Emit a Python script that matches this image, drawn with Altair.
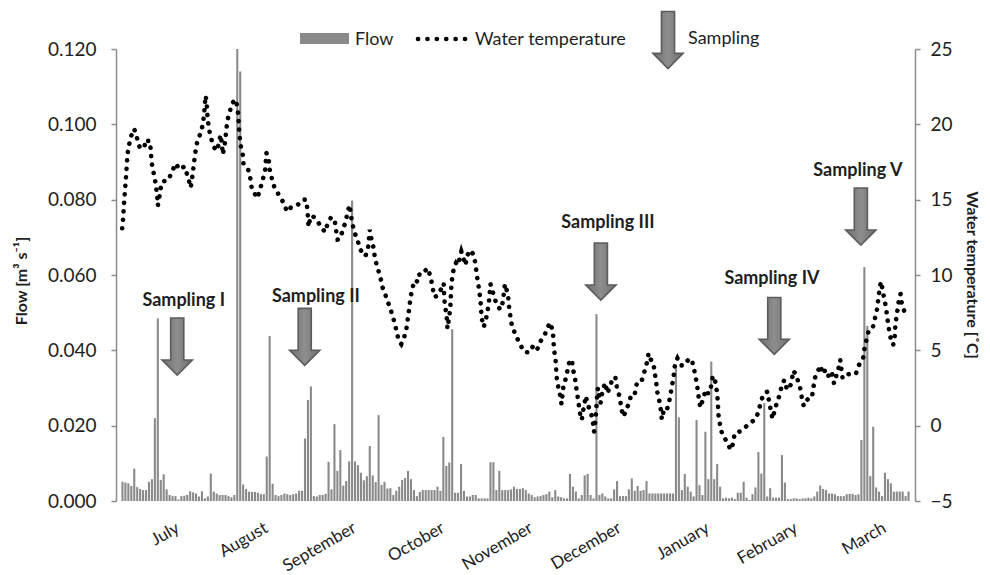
import altair as alt
import pandas as pd

# ---------------- data ----------------
flow = [
    0.0051, 0.0049, 0.0047, 0.0040, 0.0086, 0.0037, 0.0032, 0.0029, 0.0029, 0.0051,
    0.0058, 0.0220, 0.0485, 0.0056, 0.0071, 0.0031, 0.0016, 0.0013, 0.0013, 0.0004,
    0.0013, 0.0014, 0.0016, 0.0026, 0.0023, 0.0020, 0.0012, 0.0026, 0.0007, 0.0012,
    0.0073, 0.0025, 0.0020, 0.0016, 0.0016, 0.0016, 0.0013, 0.0010, 0.0016, 0.1200,
    0.1140, 0.0044, 0.0032, 0.0025, 0.0024, 0.0024, 0.0022, 0.0018, 0.0018, 0.0118,
    0.0438, 0.0046, 0.0016, 0.0013, 0.0016, 0.0020, 0.0018, 0.0016, 0.0018, 0.0020,
    0.0027, 0.0027, 0.0166, 0.0268, 0.0304, 0.0013, 0.0012, 0.0016, 0.0016, 0.0019,
    0.0104, 0.0031, 0.0204, 0.0080, 0.0135, 0.0041, 0.0053, 0.0105, 0.0798, 0.0105,
    0.0095, 0.0075, 0.0055, 0.0066, 0.0146, 0.0068, 0.0050, 0.0228, 0.0043, 0.0051,
    0.0033, 0.0034, 0.0016, 0.0027, 0.0038, 0.0056, 0.0061, 0.0080, 0.0058, 0.0029,
    0.0013, 0.0024, 0.0029, 0.0029, 0.0029, 0.0029, 0.0029, 0.0038, 0.0027, 0.0170,
    0.0093, 0.0102, 0.0456, 0.0022, 0.0022, 0.0098, 0.0027, 0.0012, 0.0012, 0.0016,
    0.0016, 0.0007, 0.0007, 0.0007, 0.0007, 0.0103, 0.0103, 0.0029, 0.0080, 0.0029,
    0.0029, 0.0029, 0.0031, 0.0038, 0.0032, 0.0032, 0.0034, 0.0029, 0.0020, 0.0016,
    0.0010, 0.0012, 0.0013, 0.0016, 0.0018, 0.0025, 0.0010, 0.0029, 0.0012, 0.0010,
    0.0007, 0.0007, 0.0072, 0.0038, 0.0025, 0.0007, 0.0016, 0.0068, 0.0072, 0.0016,
    0.0007, 0.0496, 0.0016, 0.0020, 0.0012, 0.0007, 0.0007, 0.0031, 0.0053, 0.0013,
    0.0013, 0.0013, 0.0031, 0.0060, 0.0027, 0.0040, 0.0027, 0.0029, 0.0053, 0.0020,
    0.0020, 0.0020, 0.0020, 0.0020, 0.0020, 0.0020, 0.0020, 0.0020, 0.0360, 0.0222,
    0.0029, 0.0072, 0.0038, 0.0025, 0.0012, 0.0215, 0.0042, 0.0016, 0.0184, 0.0058,
    0.0370, 0.0058, 0.0098, 0.0038, 0.0007, 0.0009, 0.0007, 0.0009, 0.0005, 0.0022,
    0.0022, 0.0051, 0.0009, 0.0003, 0.0018, 0.0036, 0.0130, 0.0073, 0.0260, 0.0012,
    0.0034, 0.0009, 0.0009, 0.0009, 0.0122, 0.0049, 0.0005, 0.0005, 0.0007, 0.0007,
    0.0005, 0.0007, 0.0007, 0.0009, 0.0007, 0.0012, 0.0025, 0.0041, 0.0032, 0.0029,
    0.0020, 0.0020, 0.0018, 0.0013, 0.0013, 0.0013, 0.0018, 0.0019, 0.0019, 0.0016,
    0.0018, 0.0162, 0.0621, 0.0465, 0.0066, 0.0197, 0.0036, 0.0025, 0.0013, 0.0075,
    0.0058, 0.0047, 0.0025, 0.0025, 0.0025, 0.0025, 0.0013, 0.0025,
]

temp_day = [
    0.4, 0.7, 0.9, 1.1, 1.3, 1.6, 1.8, 2.0, 2.2, 2.7, 3.4, 4.5, 5.4, 6.3, 7.8, 8.5, 9.2, 9.8,
    10.1, 10.3, 10.7, 11.4, 11.9, 12.3, 12.5, 13.0, 13.4, 14.1, 16.1, 17.4, 18.6, 19.9, 21.5,
    22.6, 23.3, 23.7, 24.2, 24.6, 24.9, 25.3, 25.9, 27.1, 27.8, 28.2, 28.5, 28.7, 29.0, 29.2,
    29.4, 29.9, 30.4, 31.5, 32.6, 33.2, 33.8, 34.3, 34.55, 35.1, 35.45, 35.8, 36.2, 36.9, 37.7,
    38.5, 39.0, 39.6, 39.9, 40.05, 40.3, 40.7, 41.4, 41.6, 43.2, 44.06, 44.4, 46.3, 47.2, 48.1,
    48.9, 49.4, 50.2, 50.5, 51.4, 52.2, 53.7, 55.2, 56.4, 57.8, 60.0, 61.7, 62.8, 63.3, 63.7,
    64.4, 65.2, 66.5, 67.6, 69.3, 70.1, 71.4, 72.7, 73.1, 73.6, 74.25, 75.4, 76.3, 76.9, 77.6,
    78.05, 78.5, 79.4, 80.5, 81.4, 83.0, 83.9, 84.5, 85.0, 85.4, 85.9, 86.3, 87.2, 88.1, 88.8,
    89.6, 90.5, 91.6, 92.4, 93.2, 93.9, 94.5, 95.2, 95.9, 96.6, 97.1, 97.5, 97.9, 98.3, 98.9,
    99.7, 100.9, 101.5, 102.9, 104.2, 105.1, 105.8, 106.4, 107.3, 108.2, 108.9, 109.6, 109.8,
    110.0, 110.5, 110.7, 110.9, 111.4, 111.8, 112.0, 112.1, 112.3, 112.7, 113.2, 113.8, 114.5,
    115.2, 115.6, 116.5, 117.0, 117.6, 118.75, 119.9, 120.5, 121.2, 121.65, 122.1, 122.3,
    122.55, 123.2, 123.9, 124.6, 125.0, 125.5, 126.4, 127.5, 128.8, 129.7, 130.4, 131.0,
    131.5, 131.9, 132.8, 134.2, 135.5, 136.9, 138.6, 140.0, 141.3, 142.2, 143.9, 145.0, 145.8,
    146.7, 146.9, 147.1, 147.6, 147.8, 148.0, 148.5, 149.2, 149.6, 150.3, 151.2, 151.8, 152.5,
    153.2, 153.6, 154.3, 154.7, 155.2, 155.6, 156.1, 156.5, 156.9, 157.4, 157.9, 158.4, 159.1,
    159.7, 160.3, 160.7, 161.1, 161.4, 161.6, 161.8, 162.0, 162.5, 162.9, 163.5, 164.4, 165.3,
    165.9, 166.8, 167.9, 168.4, 169.1, 169.7, 170.5, 171.4, 172.4, 173.4, 174.5, 175.3, 176.2,
    176.9, 177.8, 178.6, 179.2, 179.9, 180.8, 181.3, 181.8, 182.2, 182.9, 183.4, 183.7, 184.5,
    185.5, 186.3, 186.9, 187.4, 187.85, 188.2, 189.0, 189.6, 190.3, 191.3, 192.4, 193.2, 194.1,
    194.8, 195.4, 195.9, 196.3, 196.8, 197.5, 198.1, 198.6, 199.2, 199.9, 200.4, 201.0, 201.7,
    202.2, 202.6, 202.8, 203.0, 203.5, 204.2, 205.7, 207.1, 208.0, 208.4, 210.9, 213.0, 215.6,
    216.7, 217.4, 218.5, 219.6, 220.1, 220.7, 221.3, 221.9, 222.7, 223.6, 224.5, 225.3, 226.1,
    227.0, 227.9, 228.3, 229.1, 229.9, 230.6, 231.2, 231.9, 232.8, 233.9, 234.7, 235.4, 235.9,
    236.9, 237.5, 238.2, 238.8, 239.5, 240.5, 241.4, 242.2, 243.1, 243.6, 244.3, 245.1, 246.1,
    247.4, 249.6, 250.7, 252.1, 252.5, 253.2, 253.9, 254.5, 255.4, 256.1, 256.8, 257.2, 257.6,
    258.1, 258.5, 259.0, 259.6, 260.1, 260.5, 261.0, 261.6, 262.3, 262.8, 263.0, 263.4, 263.9,
    264.3, 264.8, 265.2, 266.1, 267.0,
]

temp_value = [
    13.1, 13.7, 14.3, 14.9, 15.5, 16.2, 16.8, 17.4, 18.0, 18.6, 19.2, 19.7, 19.1, 18.5, 18.4, 19.0, 18.9, 18.9,
    18.3, 17.7, 17.1, 16.5, 15.9, 15.2, 14.6, 15.1, 15.7, 16.2, 16.3, 16.9, 17.4, 17.0, 17.2,
    16.6, 16.1, 15.8, 16.5, 17.1, 17.6, 18.2, 18.85, 19.45, 20.0, 20.6, 21.3, 21.9, 21.6, 21.1,
    20.4, 19.7, 19.2, 18.5, 18.25, 18.7, 19.3, 18.7, 18.0, 18.5, 19.0, 19.7, 20.3, 20.8, 21.4,
    21.55, 21.65, 21.05, 20.45, 19.8, 19.2, 18.55, 17.95, 17.4, 17.0, 16.3, 15.75, 15.1, 15.65, 16.3,
    16.85, 18.1, 17.6, 17.0, 16.3, 15.75, 15.3, 14.8, 14.2, 14.5, 14.65, 15.0, 15.0, 14.4, 13.2,
    13.9, 13.9, 13.65, 13.3, 12.85, 13.35, 13.85, 13.5, 12.9, 12.35, 12.37, 13.0, 13.55, 14.1, 14.65,
    14.1, 13.45, 12.8, 12.2, 11.65, 11.25, 11.75, 13.0, 12.45, 12.2, 11.65, 11.05, 10.45, 9.85, 9.2,
    8.8, 8.3, 7.7, 7.2, 6.6, 6.0, 5.6, 5.42, 5.75, 6.1, 6.6, 7.2, 7.8, 8.45, 9.05,
    9.65, 9.55, 10.15, 10.2, 10.45, 9.9, 9.25, 8.55, 8.6, 8.9, 9.1, 9.45, 8.55,
    8.0, 7.45, 7.0, 6.45, 7.1, 7.7, 8.35, 8.95, 9.5, 10.1, 10.55, 10.8, 10.65,
    11.25, 11.55, 11.0, 10.65, 11.3, 11.65, 11.3, 10.55, 9.55, 9.0, 8.35, 7.7,
    7.1, 6.55, 7.0, 7.7, 8.25, 9.4, 8.8, 8.1, 7.7, 8.2, 9.4, 9.0,
    8.55, 7.7, 6.6, 5.95, 5.42, 4.91, 4.85, 5.29, 5.02, 5.51, 6.02, 6.57, 6.84,
    6.24, 5.64, 5.02, 4.40, 3.81, 3.19, 2.59, 1.99, 1.44, 2.63, 3.21, 3.81, 4.40,
    4.25, 3.70, 3.03, 2.41, 1.81, 1.22, 0.60, 0.38, 0.9, 1.45, 1.97, 1.5, 1.1,
    0.8, 0.25, -0.4, 0.3, 0.9, 1.6, 2.2, 2.5, 1.8, 1.5, 2.25, 2.85, 2.15,
    2.55, 3.0, 3.25, 2.6, 2.1, 1.5, 0.6, 0.9, 1.45, 2.1, 2.1, 2.9, 3.0,
    3.0, 3.6, 4.15, 4.8, 4.4, 4.2, 3.5, 2.85, 2.2, 1.6, 1.0, 0.42, 1.15,
    1.1, 1.7, 2.37, 2.92, 3.47, 4.14, 4.47, 4.25, 4.0, 4.0, 4.3, 4.47, 4.2,
    3.6, 3.0, 2.37, 1.75, 1.2, 1.65, 2.04, 2.37, 2.15, 2.15, 2.6, 3.3, 3.1,
    2.55, 1.9, 1.25, 0.6, 0.04, -0.57, -1.04, -1.61, -1.13, -0.51, -0.33, 0.07, 0.44,
    1.04, 1.66, 2.15, 2.26, 1.6, 1.05, 0.45, 0.9, 1.48, 1.97, 2.7, 3.03, 2.48,
    2.4, 3.03, 3.65, 3.45, 3.0, 2.6, 1.93, 1.31, 1.65, 1.9, 1.9, 2.8, 3.3,
    3.7, 4.0, 3.6, 3.8, 3.25, 3.33, 3.6, 2.8, 3.4, 3.7, 4.36, 3.15, 3.36,
    3.43, 3.43, 4.03, 4.47, 5.07, 5.69, 6.24, 6.46, 6.53, 7.12, 7.72, 8.34, 8.96,
    9.56, 9.22, 8.67, 8.08, 7.46, 6.84, 6.24, 5.64, 5.36, 5.95, 6.57, 7.24, 7.85,
    8.45, 8.74, 8.12, 7.57, 7.72,
]

months = ["July", "August", "September", "October", "November",
          "December", "January", "February", "March"]
month_mid_day = [15, 45, 75, 105, 135, 165, 195, 225, 255]
month_tick_day = [0, 30, 60, 90, 120, 150, 180, 210, 240]

flow_ticks = [0.0, 0.02, 0.04, 0.06, 0.08, 0.10, 0.12]
temp_ticks = [-5, 0, 5, 10, 15, 20, 25]

sampling_names = ["Sampling I", "Sampling II", "Sampling III", "Sampling IV", "Sampling V"]
arrow_day = [19.1, 62.4, 163.0, 221.9, 251.3]
arrow_temp = [5.25, 5.89, 10.23, 6.62, 13.88]
label_day = [21.3, 66.2, 165.4, 221.1, 250.3]
label_temp = [7.91, 8.21, 13.12, 9.40, 16.57]

# ---------------- styling ----------------
W, H = 799, 452
FONT = "Lato"
AXIS_GRAY = "#8c8c8c"
BAR_GRAY = "#8a8a8a"
TEXT = "#1e1e1e"
ARROW_PATH = "M-0.23,-1L0.23,-1L0.23,0.47L0.53,0.47L0,1L-0.53,0.47L-0.23,0.47Z"
ARROW_SIZE = 3249
ARROW_FILL = alt.LinearGradient(
    gradient="linear", x1=0, x2=1, y1=0, y2=0,
    stops=[alt.GradientStop(offset=0, color="#6e6e6e"),
           alt.GradientStop(offset=0.5, color="#8e8e8e"),
           alt.GradientStop(offset=1, color="#6e6e6e")],
)

xscale = alt.Scale(domain=[0, 268], nice=False, zero=False)
flow_scale = alt.Scale(domain=[0, 0.12], nice=False, zero=False)
temp_scale = alt.Scale(domain=[-5, 25], nice=False, zero=False)

flow_df = pd.DataFrame({"day": list(range(len(flow))), "flow": flow})
temp_df = pd.DataFrame({"day": temp_day, "temp": temp_value})
month_df = pd.DataFrame({"month": months, "day": month_mid_day})
arrow_df = pd.DataFrame({"day": arrow_day, "temp": arrow_temp})
label_df = pd.DataFrame({"name": sampling_names, "day": label_day, "temp": label_temp})
one = pd.DataFrame({"k": [0]})

bars = alt.Chart(flow_df).transform_calculate(
    pos="datum.day + 0.5"
).mark_bar(size=2.1, color=BAR_GRAY).encode(
    x=alt.X("pos:Q", scale=xscale,
            axis=alt.Axis(values=month_tick_day, labels=False, title=None, grid=False,
                          tickSize=6, tickColor=AXIS_GRAY, domainColor=AXIS_GRAY,
                          domainWidth=1.5, tickWidth=1.5)),
    y=alt.Y("flow:Q", scale=flow_scale,
            axis=alt.Axis(orient="left", values=flow_ticks, format=".3f", title=None,
                          grid=False, tickSize=5, labelPadding=15, tickColor=AXIS_GRAY,
                          domainColor=AXIS_GRAY, domainWidth=1.5, tickWidth=1.5)),
)

line = alt.Chart(temp_df).mark_line(
    color="black", strokeWidth=4.6, strokeDash=[0.1, 8.4], strokeCap="round"
).encode(
    x=alt.X("day:Q", scale=xscale, axis=None),
    y=alt.Y("temp:Q", scale=temp_scale,
            axis=alt.Axis(orient="right", values=temp_ticks, title=None, grid=False,
                          tickSize=5, labelPadding=10, tickColor=AXIS_GRAY,
                          domainColor=AXIS_GRAY, domainWidth=1.5, tickWidth=1.5)),
)

arrows = alt.Chart(arrow_df).mark_point(
    shape=ARROW_PATH, size=ARROW_SIZE, filled=True, fill=ARROW_FILL,
    stroke="#5c5c5c", strokeWidth=1.6, opacity=1
).encode(
    x=alt.X("day:Q", scale=xscale, axis=None),
    y=alt.Y("temp:Q", scale=temp_scale, axis=None),
)

labels = alt.Chart(label_df).mark_text(
    font=FONT, fontSize=18, fontWeight="bold", color=TEXT, align="center", baseline="alphabetic"
).encode(
    x=alt.X("day:Q", scale=xscale, axis=None),
    y=alt.Y("temp:Q", scale=temp_scale, axis=None),
    text="name:N",
)

month_labels = alt.Chart(month_df).mark_text(
    font=FONT, fontSize=17, color=TEXT, align="right", baseline="top",
    angle=330, dx=7.8, dy=4.5
).encode(
    x=alt.X("day:Q", scale=xscale, axis=None),
    y=alt.value(H + 19),
    text="month:N",
)

# axis titles
flow_title = alt.Chart(one).mark_text(
    text="Flow  [m³ s⁻¹]", font=FONT, fontSize=16, fontWeight="bold", color=TEXT,
    angle=270, align="center", baseline="middle"
).encode(x=alt.value(-94), y=alt.value(232))

temp_title = alt.Chart(one).mark_text(
    text="Water temperature [˚C]", font=FONT, fontSize=16, fontWeight="bold", color=TEXT,
    angle=90, align="center", baseline="middle"
).encode(x=alt.value(856), y=alt.value(226))

# legend
leg_rect = alt.Chart(one).mark_rect(color=BAR_GRAY).encode(
    x=alt.value(184), x2=alt.value(233), y=alt.value(-16), y2=alt.value(-5))
leg_flow = alt.Chart(one).mark_text(
    text="Flow", font=FONT, fontSize=18, color=TEXT, align="left", baseline="alphabetic"
).encode(x=alt.value(239), y=alt.value(-4))
leg_dots = alt.Chart(one).mark_rule(
    color="black", strokeWidth=4.6, strokeDash=[0.1, 9.3], strokeCap="round"
).encode(x=alt.value(302), x2=alt.value(352), y=alt.value(-10))
leg_temp = alt.Chart(one).mark_text(
    text="Water temperature", font=FONT, fontSize=18, color=TEXT, align="left", baseline="alphabetic"
).encode(x=alt.value(359), y=alt.value(-4))
leg_arrow = alt.Chart(one).mark_point(
    shape=ARROW_PATH, size=ARROW_SIZE, filled=True, fill=ARROW_FILL,
    stroke="#5c5c5c", strokeWidth=1.6, opacity=1
).encode(x=alt.value(552), y=alt.value(-9))
leg_samp = alt.Chart(one).mark_text(
    text="Sampling", font=FONT, fontSize=18, color=TEXT, align="left", baseline="alphabetic"
).encode(x=alt.value(572), y=alt.value(-5))

chart = alt.layer(
    bars, line, arrows, labels, month_labels, flow_title, temp_title,
    leg_rect, leg_flow, leg_dots, leg_temp, leg_arrow, leg_samp
).resolve_scale(
    y="independent"
).properties(
    width=W, height=H,
    autosize=alt.AutoSizeParams(type="none"),
    padding={"left": 116, "top": 49, "right": 75, "bottom": 74},
    background="white",
).configure_view(
    stroke=None
).configure_axis(
    labelFont=FONT, labelFontSize=19, labelColor=TEXT
)

chart.save("out.html", embed_options={"renderer": "svg", "actions": False})
